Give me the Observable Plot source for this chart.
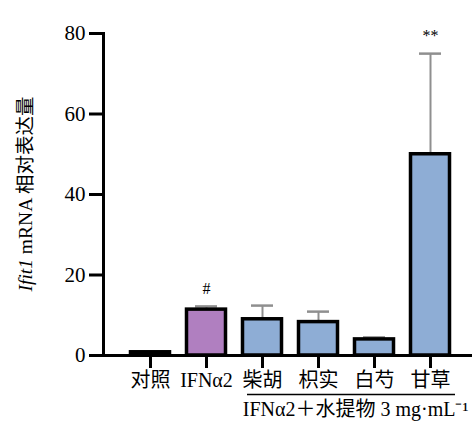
<!DOCTYPE html>
<html><head><meta charset="utf-8">
<script src="https://cdn.jsdelivr.net/npm/d3@7"></script>
<script src="https://cdn.jsdelivr.net/npm/@observablehq/plot@0.6"></script>
<style>body{margin:0;background:#fff} #chart{width:472px;height:425px}</style>
</head><body><div id="chart"></div>
<script>
const categories = ["对照", "IFNα2", "柴胡", "枳实", "白芍", "甘草"];
const means = [0.8, 11.4, 9.0, 8.3, 4.0, 50.0];
const errors = [0, 0.8, 3.4, 2.6, 0.5, 25.0];
const groups = ["control", "model", "extract", "extract", "extract", "extract"];
const signif = ["", "#", "", "", "", "**"];
const yTicks = [0, 20, 40, 60, 80];
const extractSpan = ["柴胡", "甘草"];
const caption = "IFNα2＋水提物 3 mg·mL⁻¹";
const yLabelItalic = "Ifit1";
const yLabelRest = " mRNA 相对表达量";

const data = categories.map((c, i) => ({cat: c, mean: means[i], err: errors[i], group: groups[i], mark: signif[i]}));
const font = '"Liberation Serif","Noto Sans CJK SC",serif';
const plot = Plot.plot({
  width: 472, height: 425,
  marginLeft: 103, marginRight: 0, marginTop: 33, marginBottom: 70,
  style: {fontFamily: font, fontSize: "20px", color: "#000", background: "#fff"},
  x: {domain: categories, range: [103, 476], paddingInner: 0.25, paddingOuter: 0.4, label: null},
  y: {domain: [0, 80], label: null},
  color: {domain: ["control", "model", "extract"], range: ["#ffffff", "#b07fc0", "#8eadd5"]},
  marks: [
    Plot.ruleX(data, {x: "cat", y1: "mean", y2: d => d.mean + d.err, stroke: "#8f8f8f", strokeWidth: 2}),
    Plot.tickY(data.filter(d => d.err > 0), {x: "cat", y: d => d.mean + d.err, stroke: "#8f8f8f", strokeWidth: 2.5, insetLeft: 10, insetRight: 10}),
    Plot.barY(data, {x: "cat", y: "mean", fill: "group", stroke: "#000", strokeWidth: 3.5, insetLeft: 1.5, insetRight: 1.5}),
    Plot.text(data.filter(d => d.mark), {x: "cat", y: d => d.mean + d.err, text: "mark", dy: -18, fontSize: 16}),
    Plot.axisY({ticks: yTicks, tickSize: 14, tickPadding: 4, strokeWidth: 3, label: null, fontSize: 21}),
    Plot.axisX({tickSize: 13, tickPadding: 4, strokeWidth: 3, label: null, fontSize: 20}),
    Plot.frame({anchor: "left", strokeWidth: 3}),
    Plot.ruleY([0], {strokeWidth: 3}),
    Plot.ruleY([0], {x1: [extractSpan[0]], x2: [extractSpan[1]], dy: 39, strokeWidth: 1.3, insetLeft: 6, insetRight: -4}),
    Plot.text([caption], {frameAnchor: "bottom-right", dy: 60, dx: -4, textAnchor: "end", fontSize: 20})
  ]
});
const yr = plot.scale("y").range;
const lbl = d3.select(plot).append("text")
  .attr("transform", `translate(${103 - 75},${(yr[0] + yr[1]) / 2}) rotate(-90)`)
  .attr("text-anchor", "middle").attr("dominant-baseline", "middle")
  .attr("font-size", 19.5).attr("fill", "#000");
lbl.append("tspan").attr("font-style", "italic").text(yLabelItalic);
lbl.append("tspan").text(yLabelRest);
document.getElementById("chart").appendChild(plot);
</script></body></html>
